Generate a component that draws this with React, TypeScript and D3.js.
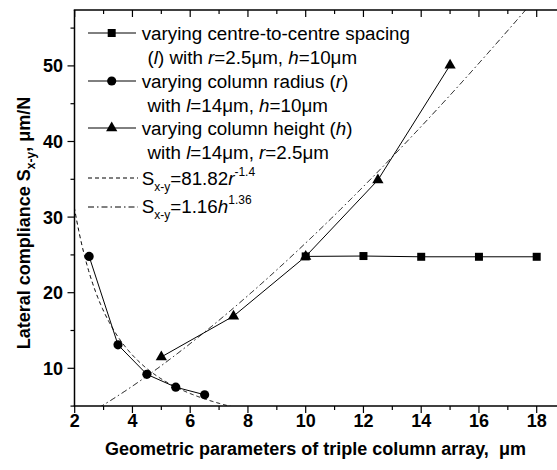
import React from 'react';
import * as d3 from 'd3';

const W = 557;
const H = 470;

// Data
const spacingX = [10, 12, 14, 16, 18];
const spacingY = [24.8, 24.85, 24.75, 24.75, 24.75];
const radiusX = [2.5, 3.5, 4.5, 5.5, 6.5];
const radiusY = [24.8, 13.1, 9.2, 7.5, 6.5];
const heightX = [5, 7.5, 10, 12.5, 15];
const heightY = [11.5, 16.9, 24.8, 34.9, 50.1];
const fitRParams = [81.82, -1.4];
const fitHParams = [1.16, 1.36];
const xTickLabels = [2, 4, 6, 8, 10, 12, 14, 16, 18];
const yTickLabels = [10, 20, 30, 40, 50];

const FONT = "'Liberation Sans', Arial, sans-serif";

export default function App() {
  const x = d3.scaleLinear().domain([2, 18]).range([74.7, 536.7]);
  const y = d3.scaleLinear().domain([10, 50]).range([368.3, 65.9]);
  const left = 74.5;
  const top = 10;
  const bottom = 406;
  const right = 620;
  const yMin = y.invert(bottom);
  const yMax = y.invert(top);

  const line = d3
    .line<[number, number]>()
    .x((d) => x(d[0]))
    .y((d) => y(d[1]));

  const zip = (a: number[], b: number[]) => a.map((v, i) => [v, b[i]] as [number, number]);

  const samples = d3.range(1.8, 19.5, 0.02);
  const fitR = samples.map((v) => [v, fitRParams[0] * Math.pow(v, fitRParams[1])] as [number, number]);
  const fitH = samples.map((v) => [v, fitHParams[0] * Math.pow(v, fitHParams[1])] as [number, number]);

  const sq = d3.symbol().type(d3.symbolSquare).size(64)()!;
  const ci = d3.symbol().type(d3.symbolCircle).size(66)()!;
  const tr = d3.symbol().type(d3.symbolTriangle).size(55)()!;

  const xMinor = d3.range(2, 19.01, 1);
  const yMinor = d3.range(5, yMax, 5);

  const dashed = '4,3';
  const dashDot = '6,3,1.5,3';

  const legendRows = [33, 57, 81, 105, 128, 152, 179, 207];
  const lx1 = 88;
  const lx2 = 136;
  const lmx = 111.7;
  const tx = 141.7;
  const tx2 = 147.5;
  const fs = 18.8;
  const afs = 18;

  return (
    <svg
      width={W}
      height={H}
      style={{ position: 'absolute', left: 0, top: 0, background: '#fff' }}
      fontFamily={FONT}
    >
      <defs>
        <clipPath id="plotClip">
          <rect x={left} y={top} width={right - left} height={bottom - top} />
        </clipPath>
      </defs>
      <rect x={0} y={0} width={W} height={H} fill="#fff" />

      {/* fit curves */}
      <g clipPath="url(#plotClip)" fill="none" stroke="#000" strokeWidth={1}>
        <path d={line(fitR.filter((d) => d[1] > yMin - 2 && d[1] < yMax + 20))!} strokeDasharray={dashed} />
        <path d={line(fitH.filter((d) => d[1] > yMin - 2 && d[1] < yMax + 5))!} strokeDasharray={dashDot} />
      </g>

      {/* series lines */}
      <g fill="none" stroke="#000" strokeWidth={1}>
        <path d={line(zip(spacingX, spacingY))!} />
        <path d={line(zip(radiusX, radiusY))!} />
        <path d={line(zip(heightX, heightY))!} />
      </g>

      {/* markers */}
      <g fill="#000">
        {spacingX.map((v, i) => (
          <path key={'s' + i} d={sq} transform={`translate(${x(v)},${y(spacingY[i])})`} />
        ))}
        {radiusX.map((v, i) => (
          <path key={'c' + i} d={ci} transform={`translate(${x(v)},${y(radiusY[i])})`} />
        ))}
        {heightX.map((v, i) => (
          <path key={'t' + i} d={tr} transform={`translate(${x(v)},${y(heightY[i])})`} />
        ))}
      </g>

      {/* frame */}
      <g stroke="#000" strokeWidth={1.5} fill="none">
        <line x1={left} x2={left} y1={top} y2={bottom} />
        <line x1={left - 0.75} x2={right} y1={top} y2={top} />
        <line x1={left - 0.75} x2={right} y1={bottom} y2={bottom} />
      </g>

      {/* ticks */}
      <g stroke="#000" strokeWidth={1.2}>
        {xMinor.map((v) => {
          const major = v % 2 === 0;
          const len = major ? 7 : 4;
          return (
            <g key={'xt' + v}>
              <line x1={x(v)} x2={x(v)} y1={bottom} y2={bottom + len} />
              <line x1={x(v)} x2={x(v)} y1={top} y2={top + len} />
            </g>
          );
        })}
        {yMinor.map((v) => {
          const major = v % 10 === 0;
          const len = major ? 7 : 4;
          return <line key={'yt' + v} x1={left} x2={left - len} y1={y(v)} y2={y(v)} />;
        })}
      </g>

      {/* tick labels */}
      <g fontWeight="bold" fontSize={afs} fill="#000">
        {xTickLabels.map((v) => (
          <text key={'xl' + v} x={x(v)} y={427} textAnchor="middle">
            {v}
          </text>
        ))}
        {yTickLabels.map((v) => (
          <text key={'yl' + v} x={63} y={y(v) + 6.5} textAnchor="end">
            {v}
          </text>
        ))}
      </g>

      {/* axis titles */}
      <text x={315.5} y={455} textAnchor="middle" fontWeight="bold" fontSize={afs}>
        Geometric parameters of triple column array,{'\u00a0\u00a0'}μm
      </text>
      <text
        transform={`translate(30,${(bottom + top) / 2 + 15}) rotate(-90)`}
        textAnchor="middle"
        fontWeight="bold"
        fontSize={afs}
      >
        Lateral compliance S
        <tspan fontSize={12} dy={5}>x-y</tspan>
        <tspan dy={-5}>, μm/N</tspan>
      </text>

      {/* legend */}
      <g fontSize={fs} fill="#000">
        {[
          { row: 0, m: sq },
          { row: 2, m: ci },
          { row: 4, m: tr },
        ].map((e) => (
          <g key={'lg' + e.row}>
            <line x1={lx1} x2={lx2} y1={legendRows[e.row]} y2={legendRows[e.row]} stroke="#000" strokeWidth={1} />
            <path d={e.m} transform={`translate(${lmx},${legendRows[e.row]})`} />
          </g>
        ))}
        <text x={tx} y={legendRows[0] + 6.5}>varying centre-to-centre spacing</text>
        <text x={tx2} y={legendRows[1] + 6.5}>
          (<tspan fontStyle="italic">l</tspan>) with <tspan fontStyle="italic">r</tspan>=2.5μm,{' '}
          <tspan fontStyle="italic">h</tspan>=10μm
        </text>
        <text x={tx} y={legendRows[2] + 6.5}>
          varying column radius (<tspan fontStyle="italic">r</tspan>)
        </text>
        <text x={tx2} y={legendRows[3] + 6.5}>
          with <tspan fontStyle="italic">l</tspan>=14μm, <tspan fontStyle="italic">h</tspan>=10μm
        </text>
        <text x={tx} y={legendRows[4] + 6.5}>
          varying column height (<tspan fontStyle="italic">h</tspan>)
        </text>
        <text x={tx2} y={legendRows[5] + 6.5}>
          with <tspan fontStyle="italic">l</tspan>=14μm, <tspan fontStyle="italic">r</tspan>=2.5μm
        </text>

        <line x1={lx1} x2={138} y1={legendRows[6] - 1} y2={legendRows[6] - 1} stroke="#000" strokeWidth={1} strokeDasharray={dashed} />
        <text x={tx} y={legendRows[6] + 6}>
          S<tspan fontSize={12} dy={6}>x-y</tspan>
          <tspan dy={-6}>=81.82</tspan>
          <tspan fontStyle="italic">r</tspan>
          <tspan fontSize={12} dy={-9}>-1.4</tspan>
        </text>

        <line x1={lx1} x2={138} y1={legendRows[7]} y2={legendRows[7]} stroke="#000" strokeWidth={1} strokeDasharray={dashDot} />
        <text x={tx} y={legendRows[7] + 6}>
          S<tspan fontSize={12} dy={6}>x-y</tspan>
          <tspan dy={-6}>=1.16</tspan>
          <tspan fontStyle="italic">h</tspan>
          <tspan fontSize={12} dy={-9}>1.36</tspan>
        </text>
      </g>
    </svg>
  );
}
